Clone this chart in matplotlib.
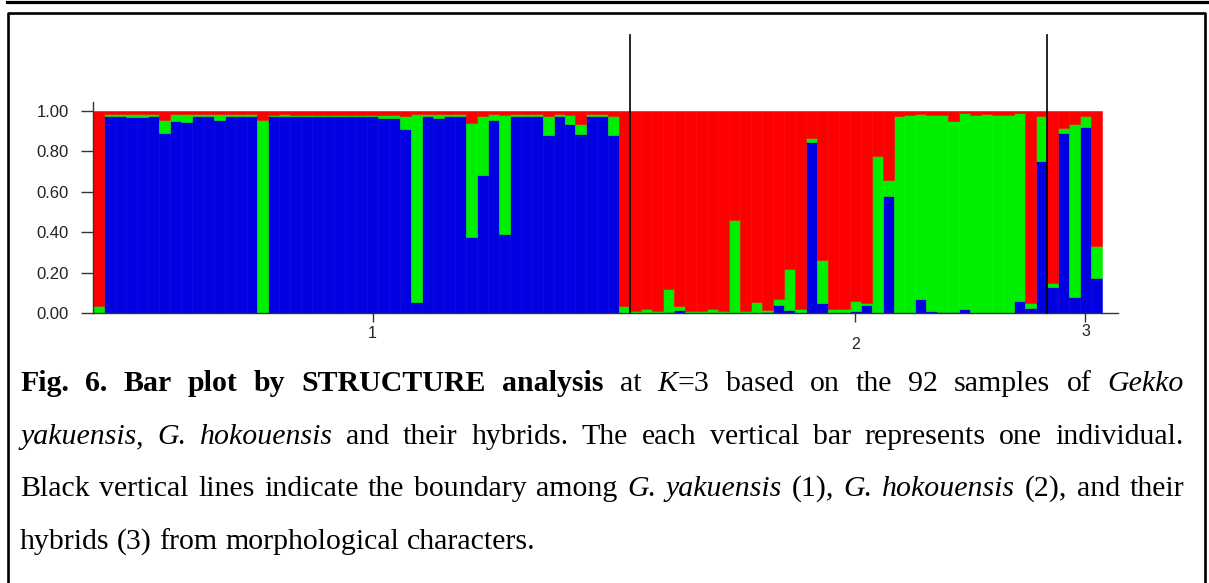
import matplotlib.pyplot as plt
from matplotlib.lines import Line2D
import numpy as np

# STRUCTURE K=3 membership per individual (bottom -> top: blue, green, red)
group_sizes = [49, 38, 5]
group_labels = ['1', '2', '3']
group_tick_pos = [25.5, 69.5, 90.5]

blue = [0.0, 0.975, 0.975, 0.97, 0.97, 0.975, 0.89, 0.952, 0.944, 0.975,
        0.975, 0.955, 0.975, 0.975, 0.975, 0.0, 0.978, 0.975, 0.978, 0.978,
        0.978, 0.978, 0.978, 0.978, 0.978, 0.978, 0.968, 0.968, 0.911, 0.055,
        0.975, 0.965, 0.975, 0.975, 0.378, 0.685, 0.957, 0.393, 0.975, 0.975,
        0.975, 0.883, 0.975, 0.938, 0.888, 0.975, 0.975, 0.883, 0.0,
        0.0, 0.0, 0.0, 0.005, 0.013, 0.0, 0.0, 0.0, 0.0, 0.0,
        0.0, 0.0, 0.005, 0.04, 0.015, 0.0, 0.845, 0.048, 0.0, 0.0,
        0.008, 0.04, 0.0, 0.578, 0.0, 0.0, 0.067, 0.008, 0.005, 0.005,
        0.022, 0.0, 0.0, 0.0, 0.0, 0.06, 0.026, 0.751,
        0.13, 0.892, 0.078, 0.921, 0.171]
green = [0.036, 0.01, 0.01, 0.015, 0.015, 0.01, 0.067, 0.035, 0.04, 0.01,
         0.01, 0.03, 0.01, 0.01, 0.01, 0.957, 0.005, 0.01, 0.005, 0.005,
         0.005, 0.005, 0.005, 0.005, 0.005, 0.005, 0.015, 0.015, 0.066, 0.93,
         0.01, 0.02, 0.01, 0.01, 0.562, 0.29, 0.03, 0.587, 0.01, 0.01,
         0.01, 0.095, 0.01, 0.045, 0.05, 0.01, 0.01, 0.095, 0.036,
         0.008, 0.022, 0.01, 0.115, 0.02, 0.008, 0.008, 0.018, 0.008, 0.462,
         0.008, 0.054, 0.008, 0.028, 0.205, 0.018, 0.022, 0.213, 0.022, 0.022,
         0.052, 0.01, 0.779, 0.08, 0.978, 0.98, 0.92, 0.975, 0.978, 0.945,
         0.97, 0.98, 0.985, 0.98, 0.98, 0.93, 0.024, 0.223,
         0.02, 0.022, 0.86, 0.054, 0.163]
red = [0.964, 0.015, 0.015, 0.015, 0.015, 0.015, 0.043, 0.013, 0.016, 0.015,
       0.015, 0.015, 0.015, 0.015, 0.015, 0.043, 0.017, 0.015, 0.017, 0.017,
       0.017, 0.017, 0.017, 0.017, 0.017, 0.017, 0.017, 0.017, 0.023, 0.015,
       0.015, 0.015, 0.015, 0.015, 0.06, 0.025, 0.013, 0.02, 0.015, 0.015,
       0.015, 0.022, 0.015, 0.017, 0.062, 0.015, 0.015, 0.022, 0.964,
       0.992, 0.978, 0.99, 0.88, 0.967, 0.992, 0.992, 0.982, 0.992, 0.538,
       0.992, 0.946, 0.987, 0.932, 0.78, 0.982, 0.133, 0.739, 0.978, 0.978,
       0.94, 0.95, 0.221, 0.342, 0.022, 0.02, 0.013, 0.017, 0.017, 0.05,
       0.008, 0.02, 0.015, 0.02, 0.02, 0.01, 0.95, 0.026,
       0.85, 0.086, 0.062, 0.025, 0.666]

ytick_values = [0.0, 0.2, 0.4, 0.6, 0.8, 1.0]
ytick_labels = ['0.00', '0.20', '0.40', '0.60', '0.80', '1.00']

caption = [
    [("Fig. 6. Bar plot by STRUCTURE analysis", "b"), (" at ", "n"), ("K", "i"),
     ("=3 based on the 92 samples of ", "n"), ("Gekko", "i")],
    [("yakuensis", "i"), (", ", "n"), ("G. hokouensis", "i"),
     (" and their hybrids. The each vertical bar represents one individual.", "n")],
    [("Black vertical lines indicate the boundary among ", "n"), ("G. yakuensis", "i"),
     (" (1), ", "n"), ("G. hokouensis", "i"), (" (2), and their", "n")],
    [("hybrids (3) from morphological characters.", "n")],
]

W, H = 1209, 583
fig = plt.figure(figsize=(W / 100, H / 100), dpi=100)
fig.patch.set_facecolor('white')

# plot area in pixels: x 93..1118, y 102..313
ax = fig.add_axes([93 / W, 1 - 313 / H, (1118 - 93) / W, (313 - 102) / H])

b = np.array(blue)
g = np.array(green)
r = np.array(red)
x = np.arange(len(b))
kw = dict(width=1.0, align='edge', linewidth=0.4)
ax.bar(x, b, color='#0000e0', edgecolor='#0000e0', **kw)
ax.bar(x, g, bottom=b, color='#00ee00', edgecolor='#00ee00', **kw)
ax.bar(x, r, bottom=b + g, color='#ff0000', edgecolor='#ff0000', **kw)

ax.set_xlim(0, len(b) * 1.016)
ax.set_ylim(0, 1.045)

for s in ['top', 'right']:
    ax.spines[s].set_visible(False)
for s in ['left', 'bottom']:
    ax.spines[s].set_color('#333333')
    ax.spines[s].set_linewidth(1.0)

ax.set_yticks(ytick_values)
ax.set_yticklabels(ytick_labels, fontsize=12, family='Liberation Sans', color='#222222')
ax.tick_params(axis='y', length=8.5, width=1, color='#333333', pad=9)

ax.set_xticks(group_tick_pos)
ax.set_xticklabels([''] * len(group_tick_pos))
ax.tick_params(axis='x', length=6.5, width=1, color='#333333')
label_y = [-0.095, -0.15, -0.09]
for pos, lab, ly in zip(group_tick_pos, group_labels, label_y):
    ax.text(pos, ly, lab, transform=ax.get_xaxis_transform(), ha='center', va='center',
            fontsize=11.5, family='Liberation Sans', color='#222222')

# boundaries between morphological groups
for bnd in np.cumsum(group_sizes)[:-1]:
    ax.axvline(bnd, ymin=0, ymax=(313 - 35) / 211, color='black', lw=1.2,
               clip_on=False, zorder=5)

# frame lines of the page
fig.add_artist(Line2D([7 / W, 1.0], [1 - 1.5 / H, 1 - 1.5 / H], color='black', lw=2.3))
fig.add_artist(Line2D([8 / W, 8 / W, 1205 / W, 1205 / W],
                      [-0.01, 1 - 13 / H, 1 - 13 / H, -0.01], color='black', lw=1.9))

# justified caption
styles = {
    'n': dict(family='Liberation Serif', fontsize=21.5),
    'b': dict(family='Liberation Serif', fontsize=21.5, fontweight='bold'),
    'i': dict(family='Liberation Serif', fontsize=21.5, style='italic'),
}
renderer = fig.canvas.get_renderer()


def measure(s, st):
    t = fig.text(0, 0, s, **styles[st])
    w = t.get_window_extent(renderer).width
    t.remove()
    return w


def to_words(chunks):
    words = [[]]
    for text, st in chunks:
        parts = text.split(' ')
        for k, p in enumerate(parts):
            if k > 0:
                words.append([])
            if p:
                words[-1].append((p, st))
    return [w for w in words if w]


space = measure('x x', 'n') - measure('xx', 'n')
x_left, x_right = 20, 1184
baselines = [391, 444, 496, 549]
for li, chunks in enumerate(caption):
    words = to_words(chunks)
    widths = [sum(measure(t, st) for t, st in w) for w in words]
    if li < len(caption) - 1:
        gap = (x_right - x_left - sum(widths)) / (len(words) - 1)
    else:
        gap = space
    xp = x_left
    for w in words:
        for t, st in w:
            fig.text(xp / W, 1 - baselines[li] / H, t, ha='left', va='baseline', **styles[st])
            xp += measure(t, st)
        xp += gap

fig.savefig('out.png', dpi=100)
